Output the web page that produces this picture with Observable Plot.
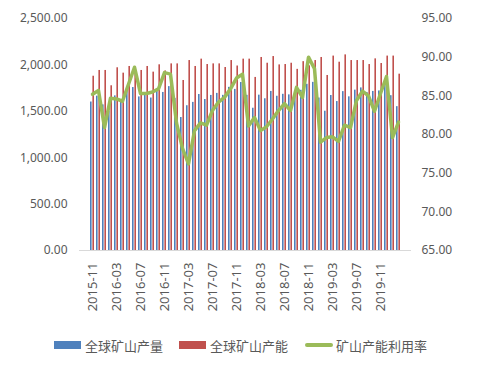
<!DOCTYPE html>
<html><head><meta charset="utf-8">
<script src="https://cdn.jsdelivr.net/npm/d3@7"></script>
<script src="https://cdn.jsdelivr.net/npm/@observablehq/plot@0.6"></script>
<style>
body{margin:0;background:#fff;width:482px;height:371px;overflow:hidden;position:relative;font-family:"Noto Sans CJK SC","Noto Sans",sans-serif}
#chart{position:absolute;left:0;top:0}
#legend{position:absolute;left:0;top:335px;width:482px;height:20px;font-size:13px;color:#595959}
.item{position:absolute;top:0;height:20px;display:flex;align-items:center;white-space:nowrap}
.sw{display:inline-block;width:27px;height:8px;margin-right:4px}
.ln{display:inline-block;width:28px;height:4px;margin-right:3px;border-radius:2px}
</style></head><body><div id="chart"></div><div id="legend"></div>
<script>
const months = ["2015-11","2015-12","2016-01","2016-02","2016-03","2016-04","2016-05","2016-06","2016-07","2016-08","2016-09","2016-10","2016-11","2016-12",
"2017-01","2017-02","2017-03","2017-04","2017-05","2017-06","2017-07","2017-08","2017-09","2017-10","2017-11","2017-12",
"2018-01","2018-02","2018-03","2018-04","2018-05","2018-06","2018-07","2018-08","2018-09","2018-10","2018-11","2018-12",
"2019-01","2019-02","2019-03","2019-04","2019-05","2019-06","2019-07","2019-08","2019-09","2019-10","2019-11","2019-12",
"2020-01","2020-02"];
const capacity = [1878,1940,1940,1775,1969,1911,1983,1980,1940,1983,1922,2001,1935,2011,
2011,1832,2047,1983,2062,2004,2011,2011,1972,2047,1988,2062,
2062,1865,2080,2018,2090,2000,2004,2018,1952,2035,1990,2047,
2080,1886,2095,2029,2108,2047,2047,2047,2004,2065,2015,2095,
2095,1900];
const production = [1600,1663,1569,1503,1666,1611,1715,1756,1655,1692,1643,1719,1703,1766,
1639,1433,1560,1596,1681,1627,1671,1693,1672,1758,1736,1810,
1672,1533,1674,1635,1714,1662,1683,1677,1681,1726,1791,1812,
1643,1501,1670,1605,1712,1656,1728,1752,1703,1714,1719,1833,
1668,1550];
const utilization = [85.2,85.7,80.9,84.7,84.6,84.3,86.5,88.7,85.3,85.3,85.5,85.9,88.0,87.8,
81.5,78.2,76.2,80.5,81.5,81.2,83.1,84.2,84.8,85.9,87.3,87.8,
81.1,82.2,80.5,81.0,82.0,83.1,84.0,83.1,86.1,84.8,90.0,88.5,
79.0,79.6,79.7,79.1,81.2,80.9,84.4,85.6,85.0,83.0,85.3,87.5,
79.6,81.6];
const leftTicks = [0,500,1000,1500,2000,2500];
const rightTicks = [65,70,75,80,85,90,95];
const xTickLabels = ["2015-11","2016-03","2016-07","2016-11","2017-03","2017-07","2017-11","2018-03","2018-07","2018-11","2019-03","2019-07","2019-11"];
const seriesNames = ["全球矿山产量","全球矿山产能","矿山产能利用率"];
const colors = ["#4F81BD","#C0504D","#9BBB59"];

const rMin = 65, rMax = 95, lMax = 2500;
const toLeft = u => (u - rMin) / (rMax - rMin) * lMax;
const fromLeft = v => rMin + v / lMax * (rMax - rMin);
const rows = months.map((m, i) => ({month: m, cap: capacity[i], prod: production[i], util: toLeft(utilization[i])}));

const chart = Plot.plot({
  width: 482, height: 330, marginTop: 18, marginBottom: 80, marginLeft: 79, marginRight: 71,
  style: {fontFamily: "Noto Sans", fontSize: "12px", color: "#595959", background: "#fff"},
  x: {type: "band", domain: months, padding: 0, label: null},
  y: {domain: [0, 2500], label: null},
  marks: [
    Plot.barY(rows, {x: "month", y: "prod", fill: colors[0], insetLeft: 1, insetRight: 3.4}),
    Plot.barY(rows, {x: "month", y: "cap", fill: colors[1], insetLeft: 3.4, insetRight: 1}),
    Plot.ruleY([0], {stroke: "#d9d9d9"}),
    Plot.line(rows, {x: "month", y: "util", stroke: colors[2], strokeWidth: 3.5, strokeLinejoin: "round"}),
    Plot.axisY(leftTicks, {anchor: "left", tickSize: 0, tickPadding: 12, label: null, tickFormat: d3.format(",.2f")}),
    Plot.axisY(rightTicks.map(toLeft), {anchor: "right", tickSize: 0, tickPadding: 10, label: null, tickFormat: d => fromLeft(d).toFixed(2)}),
    Plot.axisX(xTickLabels, {anchor: "bottom", tickRotate: -90, tickSize: 0, tickPadding: 12, label: null, fontSize: 13})
  ]
});
document.getElementById("chart").appendChild(chart);

const legend = document.getElementById("legend");
const pos = [54, 179, 305];
seriesNames.forEach((name, i) => {
  const it = document.createElement("div");
  it.className = "item";
  it.style.left = pos[i] + "px";
  const s = document.createElement("span");
  s.className = i < 2 ? "sw" : "ln";
  s.style.background = colors[i];
  it.appendChild(s);
  it.appendChild(document.createTextNode(name));
  legend.appendChild(it);
});
</script></body></html>
